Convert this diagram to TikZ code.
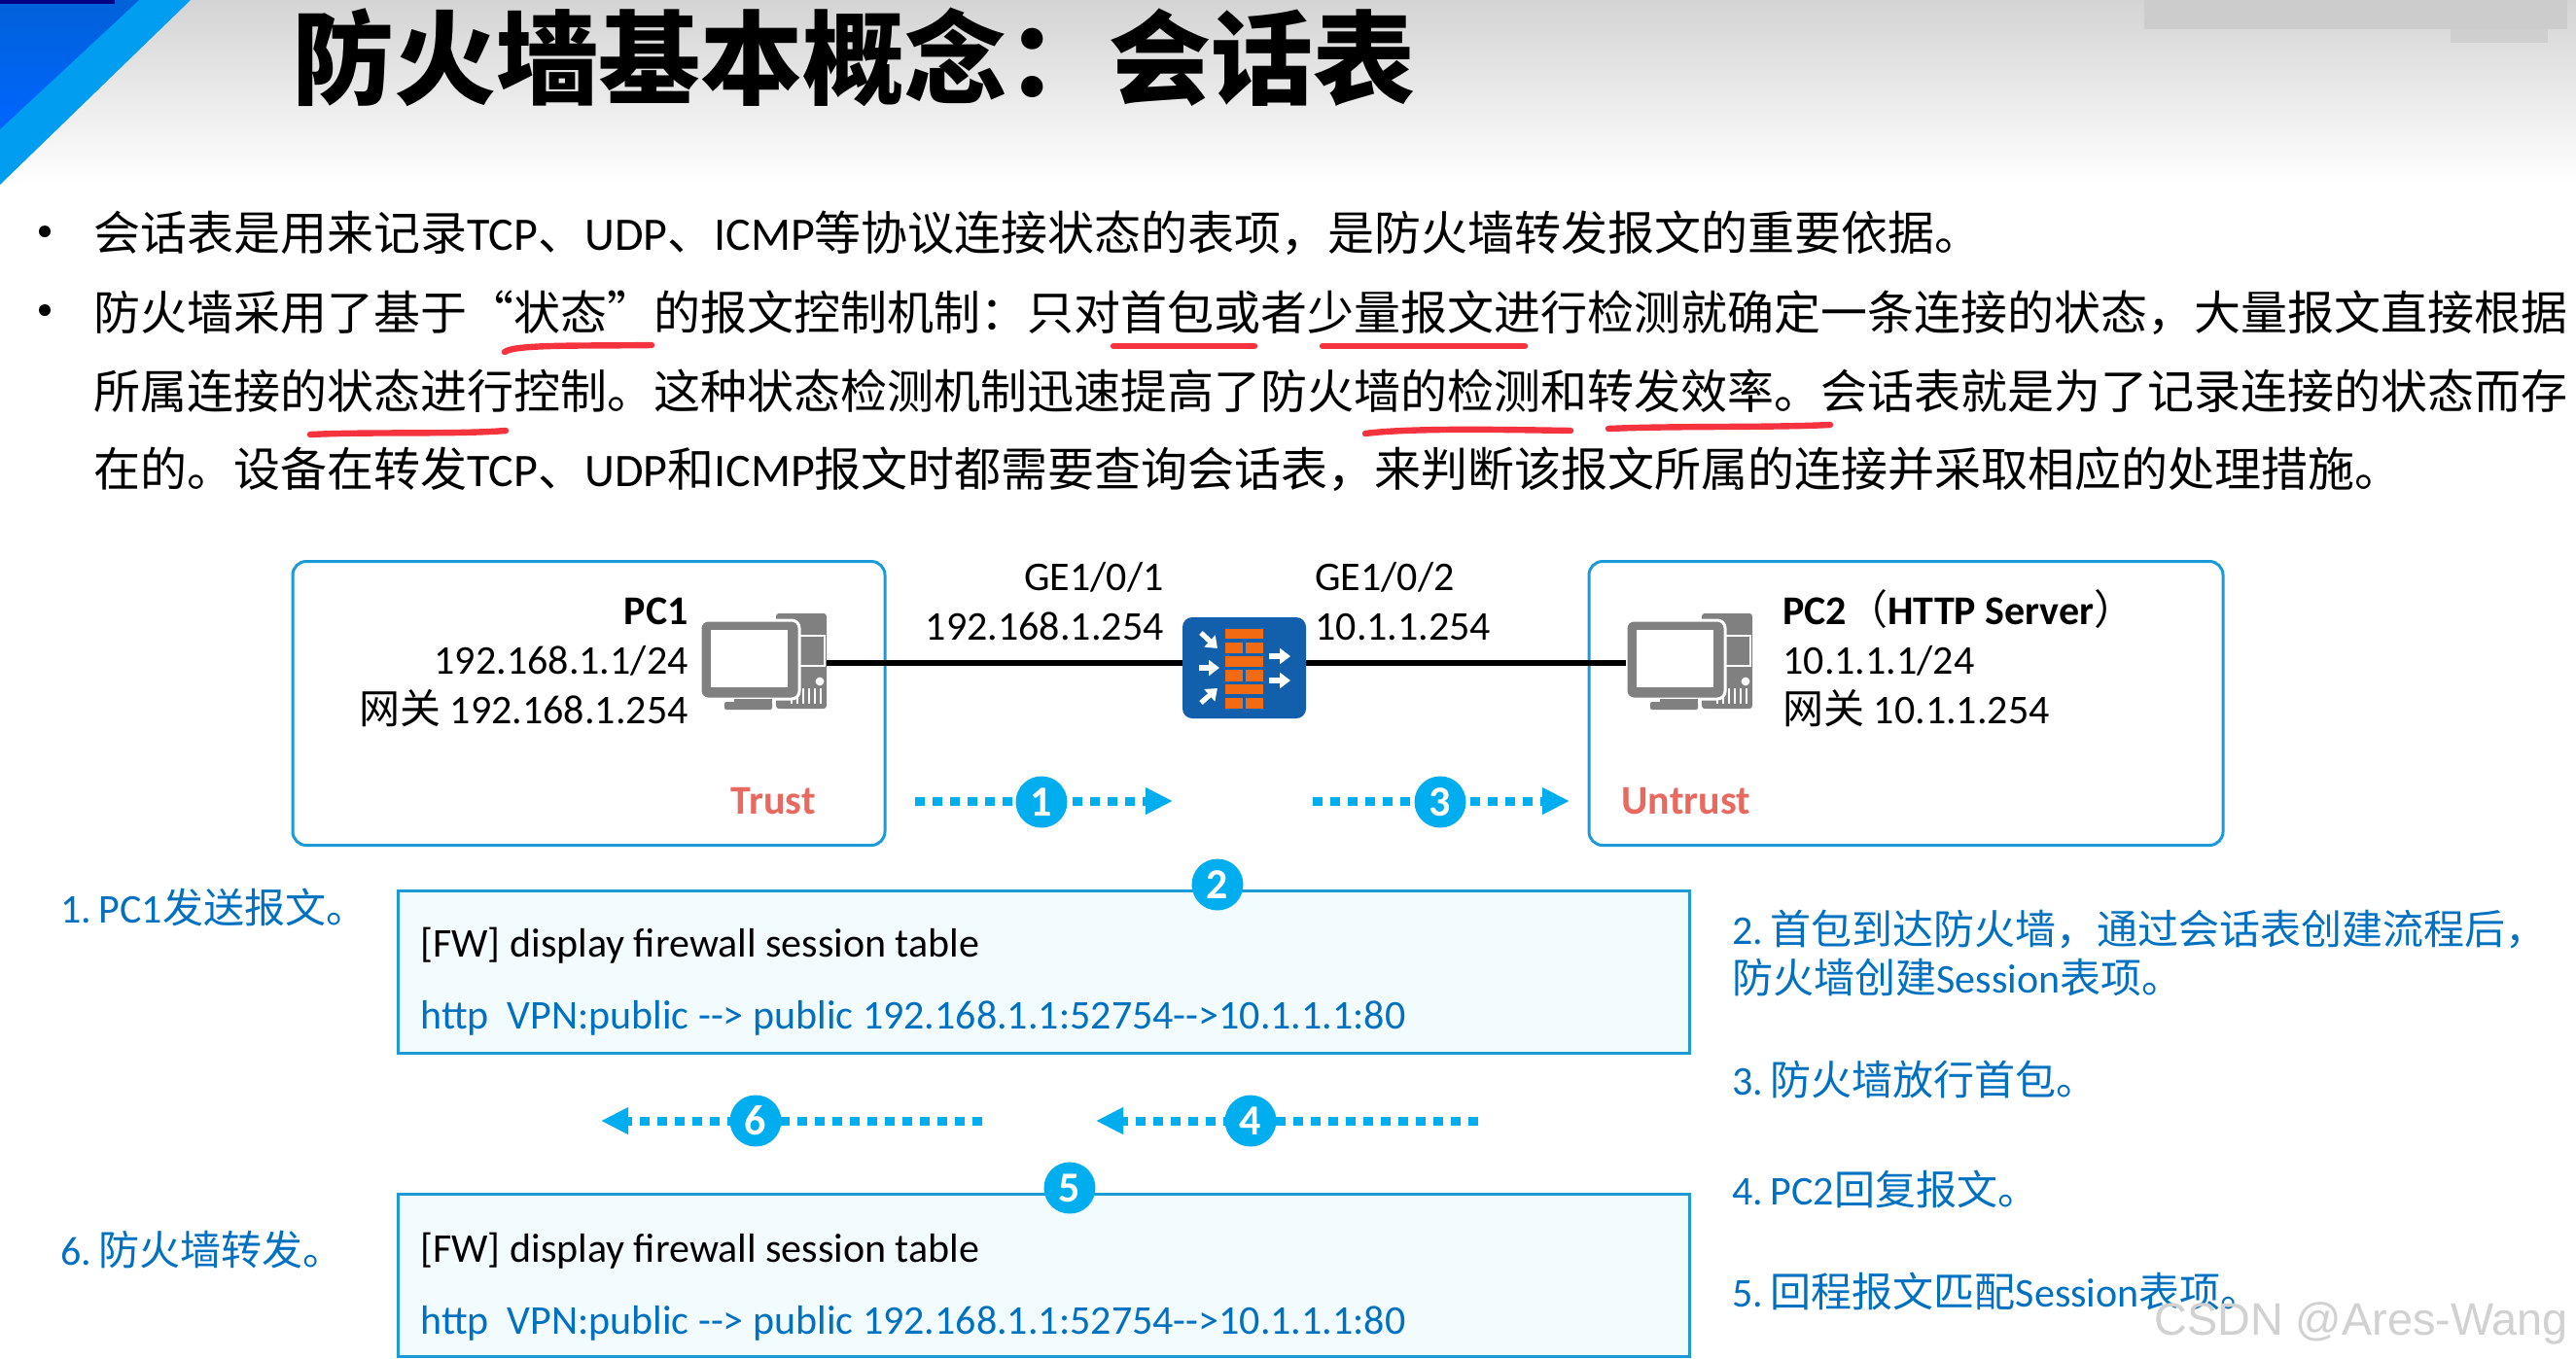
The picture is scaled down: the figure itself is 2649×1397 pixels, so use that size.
\documentclass[tikz,border=0pt]{standalone}
\usepackage{fontspec}
\usetikzlibrary{arrows.meta,shapes.geometric}
\setmainfont{Noto Sans CJK SC}
\newfontfamily\latinf{Carlito}
\newfontfamily\wmfont{Liberation Sans}
\newcommand\la[1]{{\latinf #1}}
\newcommand\fwcomma{\char"FF0C\relax}
\newcommand\fwcolon{\char"FF1A\relax}
\newcommand\fwlp{\char"FF08\relax}
\newcommand\fwrp{\char"FF09\relax}
\definecolor{bordercol}{HTML}{1A9AD6}
\definecolor{cyancol}{HTML}{00AEEF}
\definecolor{bluetext}{HTML}{0070C0}
\definecolor{fwblue}{HTML}{1260AB}
\definecolor{brick}{HTML}{F26A12}
\definecolor{pcgray}{HTML}{808080}
\definecolor{redpen}{HTML}{F5333F}
\definecolor{zonered}{HTML}{E8695F}
\tikzset{
  body/.style={anchor=base west,inner sep=0pt,font=\fontsize{24}{28}\selectfont},
  small/.style={inner sep=0pt,font=\fontsize{21}{25}\selectfont},
  lbl/.style={small,anchor=base west},
  lblr/.style={small,anchor=base east},
  bluelbl/.style={lbl,text=bluetext},
  zonebox/.style={draw=bordercol,line width=1.5pt,rounded corners=7pt,fill=white},
  sessbox/.style={draw=bordercol,line width=1.5pt,fill=cyancol!5},
  numdot/.style={circle,fill=cyancol,text=white,inner sep=0pt,minimum size=26.5pt,font=\fontsize{22}{25}\selectfont\latinf\bfseries},
  flow/.style={cyancol,line width=4.5pt,dash pattern=on 5pt off 4pt,-{Triangle[length=14pt,width=13pt]}},
  wire/.style={black,line width=3.2pt},
  pen/.style={redpen,line width=3.2pt,line cap=round},
  fwarrow/.style={white,line width=2.6pt,-{Triangle[length=5.5pt,width=8pt]}},
}
\newcommand\pcicon[2]{%
\begin{scope}[shift={(#1,0)}]
  \fill[pcgray,rounded corners=1.5pt] (798,631) rectangle (850,729);
  \draw[white,line width=.8pt] (820,654) rectangle (848,685);
  \fill[white] (843,701) circle (2.2pt);
  \foreach \vx in {814,820,826,832,838,844}{\draw[white,line width=.6pt] (\vx,708) -- (\vx,724);}
  \draw[white,line width=1.5pt,fill=pcgray,rounded corners=4pt] (720,638) rectangle (822,719);
  \fill[white] (731,648) rectangle (810,707);
  \fill[pcgray] (755,719) rectangle (794,725);
  \fill[pcgray,rounded corners=1pt] (745,722) rectangle (794,730);
  \node[inner sep=0pt,minimum width=65pt,minimum height=49pt] (#2) at (785,682) {};
\end{scope}}
\begin{document}
\begin{tikzpicture}[x=0.5pt,y=-0.5pt]
\useasboundingbox (0,0) rectangle (2649,1397);
% page and header
\fill[white] (0,0) rectangle (2649,1397);
\shade[top color=black!17,bottom color=white] (0,0) rectangle (2649,190);
\fill[black!20] (2205,0) rectangle (2640,30);
\fill[black!19] (2520,30) rectangle (2620,44);
\fill[cyancol!90!blue] (0,0) -- (196,0) -- (0,190) -- cycle;
\shade[top color=blue!55!cyan!85!black,bottom color=blue!60!cyan] (0,0) -- (143,0) -- (0,133) -- cycle;
\fill[blue!50!black] (0,0) rectangle (118,4);
\node[anchor=base west,inner sep=0pt,font=\fontsize{52.5}{56}\selectfont\bfseries] (title) at (300,99) {防火墙基本概念\fwcolon{}会话表};
% bullets
\node[circle,fill=black,inner sep=0pt,minimum size=6pt] (b1) at (46,238) {};
\node[circle,fill=black,inner sep=0pt,minimum size=6pt] (b2) at (46,319) {};
\node[body] (l1) at (96,257) {会话表是用来记录\la{TCP}、\la{UDP}、\la{ICMP}等协议连接状态的表项\fwcomma{}是防火墙转发报文的重要依据。};
\node[body] (l2) at (96,339) {防火墙采用了基于“状态”的报文控制机制\fwcolon{}只对首包或者少量报文进行检测就确定一条连接的状态\fwcomma{}大量报文直接根据};
\node[body] (l3) at (96,420) {所属连接的状态进行控制。这种状态检测机制迅速提高了防火墙的检测和转发效率。会话表就是为了记录连接的状态而存};
\node[body] (l4) at (96,500) {在的。设备在转发\la{TCP}、\la{UDP}和\la{ICMP}报文时都需要查询会话表\fwcomma{}来判断该报文所属的连接并采取相应的处理措施。};
% red pen strokes
\draw[pen] (519,362) .. controls (530,354) and (600,356) .. (670,355);
\draw[pen] (1145,356) -- (1290,356);
\draw[pen] (1360,356) -- (1568,356);
\draw[pen] (319,447) .. controls (380,444) and (470,447) .. (520,443);
\draw[pen] (1404,446) .. controls (1450,440) and (1550,442) .. (1615,443);
\draw[pen] (1654,441) .. controls (1720,438) and (1820,440) .. (1882,437);
% zones
\node[zonebox,inner sep=0pt,minimum width=304.5pt,minimum height=146pt] (zone1) at (605.5,723.5) {};
\node[zonebox,inner sep=0pt,minimum width=326pt,minimum height=146pt] (zone2) at (1960,723.5) {};
% devices
\pcicon{0}{pc1}
\pcicon{952}{pc2}
\node[fill=fwblue,rounded corners=5pt,inner sep=0pt,minimum width=63.5pt,minimum height=52pt] (fw) at (1279.5,687) {};
\draw[wire] (pc1.east |- 0,682) -- (fw.west |- 0,682);
\draw[wire] (fw.east |- 0,682) -- (pc2.west |- 0,682);
\begin{scope}
  \fill[brick] (1260,647) rectangle (1299,657);
  \fill[brick] (1260,661) rectangle (1278,672);
  \fill[brick] (1281,661) rectangle (1299,672);
  \fill[brick] (1260,675) rectangle (1299,686);
  \fill[brick] (1260,689) rectangle (1278,701);
  \fill[brick] (1281,689) rectangle (1299,701);
  \fill[brick] (1260,704) rectangle (1299,714);
  \fill[brick] (1260,718) rectangle (1278,729);
  \fill[brick] (1281,718) rectangle (1299,729);
  \draw[fwarrow] (1235,651) -- (1252,667);
  \draw[fwarrow] (1233,687) -- (1254,687);
  \draw[fwarrow] (1235,723) -- (1252,708);
  \draw[fwarrow] (1305,675) -- (1327,675);
  \draw[fwarrow] (1305,700) -- (1327,700);
\end{scope}
% device labels
\node[lblr,font=\fontsize{21}{25}\selectfont\latinf\bfseries] (pc1name) at (708,642) {PC1};
\node[lblr] (pc1ip) at (708,693) {\la{192.168.1.1/24}};
\node[lblr] (pc1gw) at (708,744) {网关\la{ 192.168.1.254}};
\node[lblr] (ge1) at (1197,607) {\la{GE1/0/1}};
\node[lblr] (ge1ip) at (1197,658) {\la{192.168.1.254}};
\node[lbl] (ge2) at (1352,607) {\la{GE1/0/2}};
\node[lbl] (ge2ip) at (1352,658) {\la{10.1.1.254}};
\node[lbl] (pc2name) at (1833,642) {\la{\bfseries PC2}\fwlp\la{\bfseries HTTP Server}\fwrp};
\node[lbl] (pc2ip) at (1833,693) {\la{10.1.1.1/24}};
\node[lbl] (pc2gw) at (1833,744) {网关\la{ 10.1.1.254}};
\node[lblr,text=zonered,font=\fontsize{21}{25}\selectfont\latinf\bfseries] (trust) at (839,837) {Trust};
\node[lbl,text=zonered,font=\fontsize{21}{25}\selectfont\latinf\bfseries] (untrust) at (1667,837) {Untrust};
% flow arrows
\coordinate (a1s) at (941,824); \coordinate (a1e) at (1206,824);
\coordinate (a3s) at (1350,824); \coordinate (a3e) at (1614,824);
\coordinate (a4s) at (1520,1153); \coordinate (a4e) at (1127,1153);
\coordinate (a6s) at (1010,1153); \coordinate (a6e) at (618,1153);
\draw[flow] (a1s) -- (a1e);
\draw[flow] (a3s) -- (a3e);
\draw[flow] (a4s) -- (a4e);
\draw[flow] (a6s) -- (a6e);
\node[numdot] (n1) at (1071,825) {1};
\node[numdot] (n3) at (1481,825) {3};
\node[numdot] (n4) at (1286,1153) {4};
\node[numdot] (n6) at (777,1153) {6};
% session tables
\node[sessbox,inner sep=0pt,minimum width=664pt,minimum height=83.5pt] (s1) at (1073,999.5) {};
\node[sessbox,inner sep=0pt,minimum width=664pt,minimum height=83.5pt] (s2) at (1073,1311.5) {};
\node[numdot] (n2) at (1252,910) {2};
\node[numdot] (n5) at (1100,1222) {5};
\node[lbl] (s1a) at (432,984) {\latinf [FW] display firewall session table};
\node[bluelbl] (s1b) at (432,1058) {\latinf http\ \ VPN:public -{}-{}> public 192.168.1.1:52754-{}->10.1.1.1:80};
\node[lbl] (s2a) at (432,1298) {\latinf [FW] display firewall session table};
\node[bluelbl] (s2b) at (432,1372) {\latinf http\ \ VPN:public -{}-{}> public 192.168.1.1:52754-{}->10.1.1.1:80};
% step texts
\node[bluelbl] (t1) at (62,949) {\la{1.\hspace{3.8pt}PC1}发送报文。};
\node[bluelbl] (t6) at (62,1301) {\la{6.\hspace{3.8pt}}防火墙转发。};
\node[bluelbl] (t2) at (1781,971) {\la{2.\hspace{3.8pt}}首包到达防火墙\fwcomma{}通过会话表创建流程后\fwcomma};
\node[bluelbl] (t2b) at (1781,1021) {防火墙创建\la{Session}表项。};
\node[bluelbl] (t3) at (1781,1126) {\la{3.\hspace{3.8pt}}防火墙放行首包。};
\node[bluelbl] (t4) at (1781,1239) {\la{4.\hspace{3.8pt}PC2}回复报文。};
\node[bluelbl] (t5) at (1781,1344) {\la{5.\hspace{3.8pt}}回程报文匹配\la{Session}表项。};
\node[anchor=base west,inner sep=0pt,text=black!18,font=\fontsize{23.4}{28}\selectfont\wmfont] (wm) at (2215,1373) {CSDN @Ares-Wang};
\end{tikzpicture}
\end{document}
